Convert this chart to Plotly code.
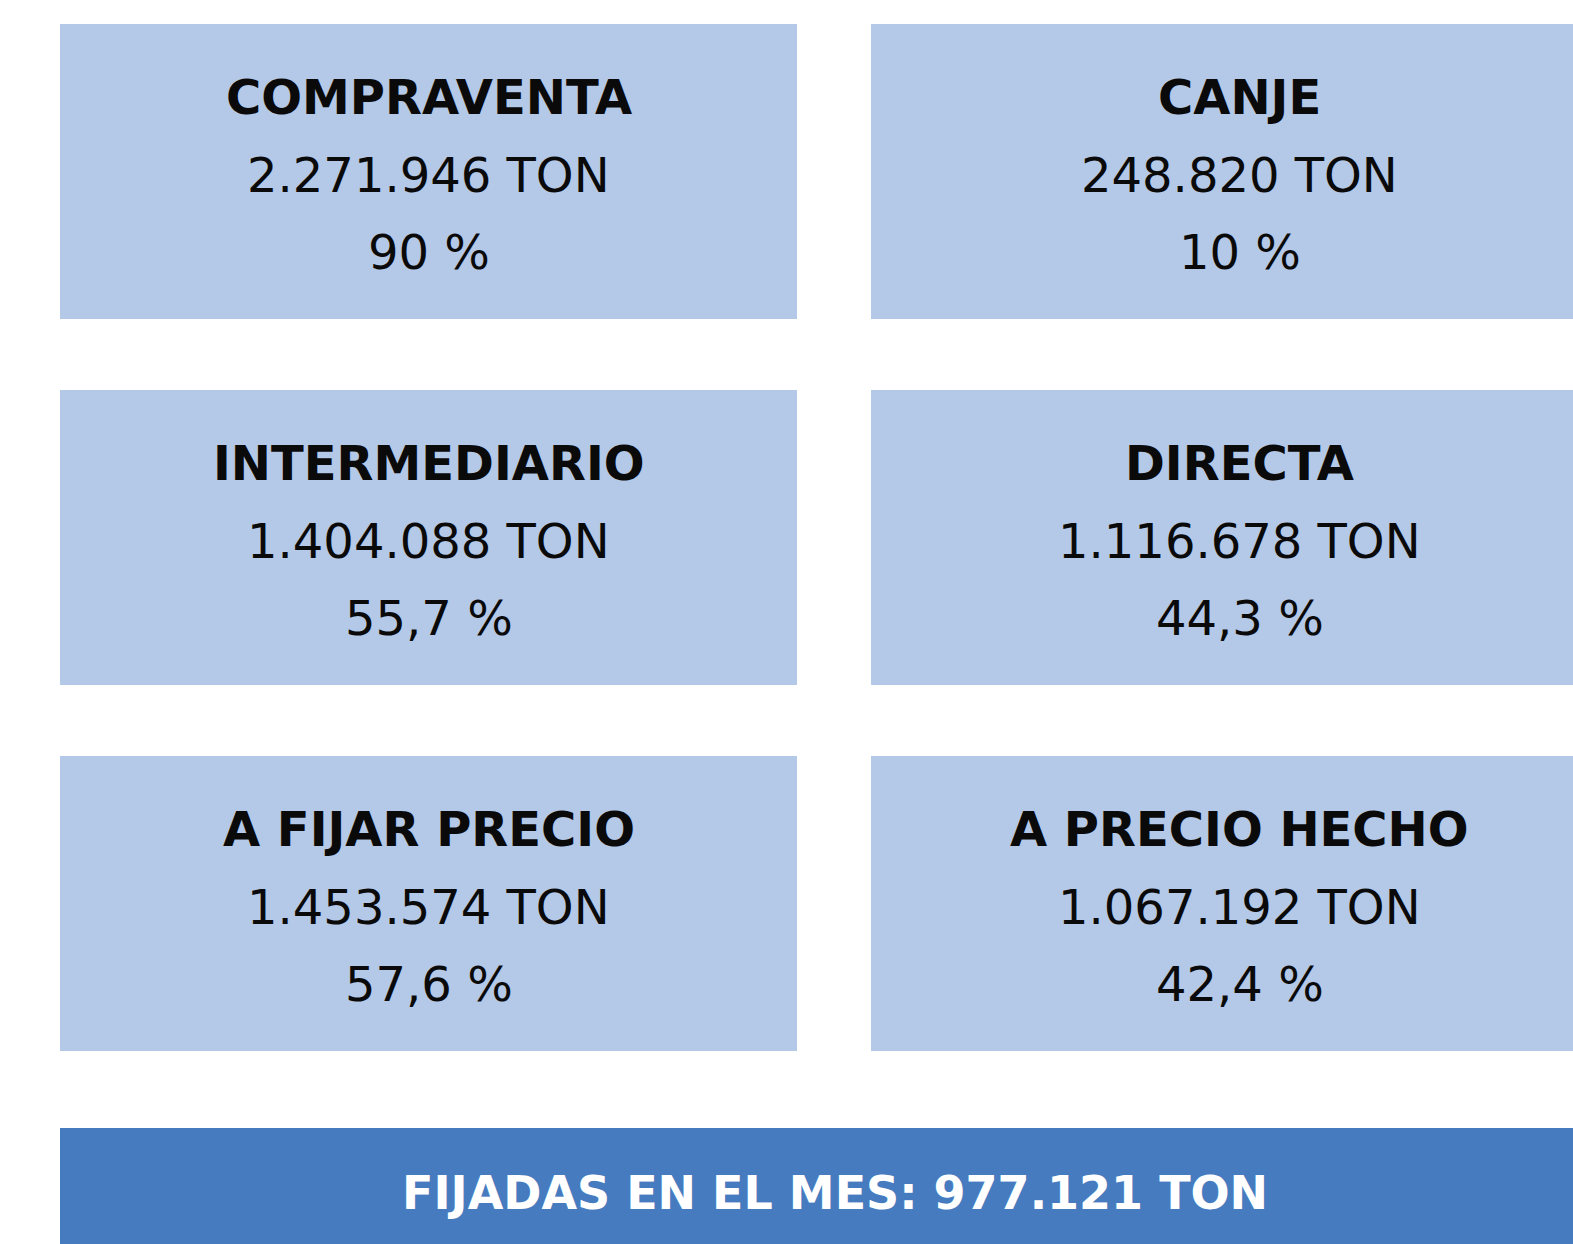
import plotly.graph_objects as go

# Data
titles = ["COMPRAVENTA", "CANJE", "INTERMEDIARIO", "DIRECTA", "A FIJAR PRECIO", "A PRECIO HECHO"]
tons = ["2.271.946 TON", "248.820 TON", "1.404.088 TON", "1.116.678 TON", "1.453.574 TON", "1.067.192 TON"]
pcts = ["90 %", "10 %", "55,7 %", "44,3 %", "57,6 %", "42,4 %"]
footer_label = "FIJADAS EN EL MES"
footer_value = "977.121 TON"

W, H = 1573, 1244
LIGHT = "#B4C8E7"
DARK = "#467CBF"
FONT = "DejaVu Sans"

col_x0 = [60, 871]
box_w = 737
row_y0 = [24, 390, 756]
box_h = 295

shapes = []
annotations = []
for i, (t, v, p) in enumerate(zip(titles, tons, pcts)):
    r, c = divmod(i, 2)
    x0 = col_x0[c]
    y0 = row_y0[r]
    shapes.append(dict(type="rect", xref="x", yref="y", x0=x0, x1=x0 + box_w, y0=y0, y1=y0 + box_h,
                       fillcolor=LIGHT, line=dict(width=0), layer="below"))
    cx = x0 + box_w / 2
    for text, dy, weight in [(t, 72.5, "bold"), (v, 150.5, "normal"), (p, 228, "normal")]:
        annotations.append(dict(x=cx, y=y0 + dy, xref="x", yref="y", text=text, showarrow=False,
                                xanchor="center", yanchor="middle",
                                font=dict(family=FONT, size=48, color="#0a0a0a", weight=weight)))

shapes.append(dict(type="rect", xref="x", yref="y", x0=60, x1=60 + 1549, y0=1128, y1=1270,
                   fillcolor=DARK, line=dict(width=0), layer="below"))
annotations.append(dict(x=60 + 1549 / 2, y=1193, xref="x", yref="y",
                        text=f"{footer_label}: {footer_value}", showarrow=False,
                        xanchor="center", yanchor="middle",
                        font=dict(family=FONT, size=46, color="white", weight="bold")))

fig = go.Figure()
fig.update_layout(
    width=W, height=H, autosize=False,
    margin=dict(l=0, r=0, t=0, b=0, pad=0),
    paper_bgcolor="white", plot_bgcolor="white",
    xaxis=dict(range=[0, W], visible=False, fixedrange=True),
    yaxis=dict(range=[H, 0], visible=False, fixedrange=True),
    shapes=shapes, annotations=annotations, showlegend=False,
)
fig.write_html("out.html", config={"displayModeBar": False},
               post_script="document.body.style.margin='0';document.body.style.overflow='hidden';")
